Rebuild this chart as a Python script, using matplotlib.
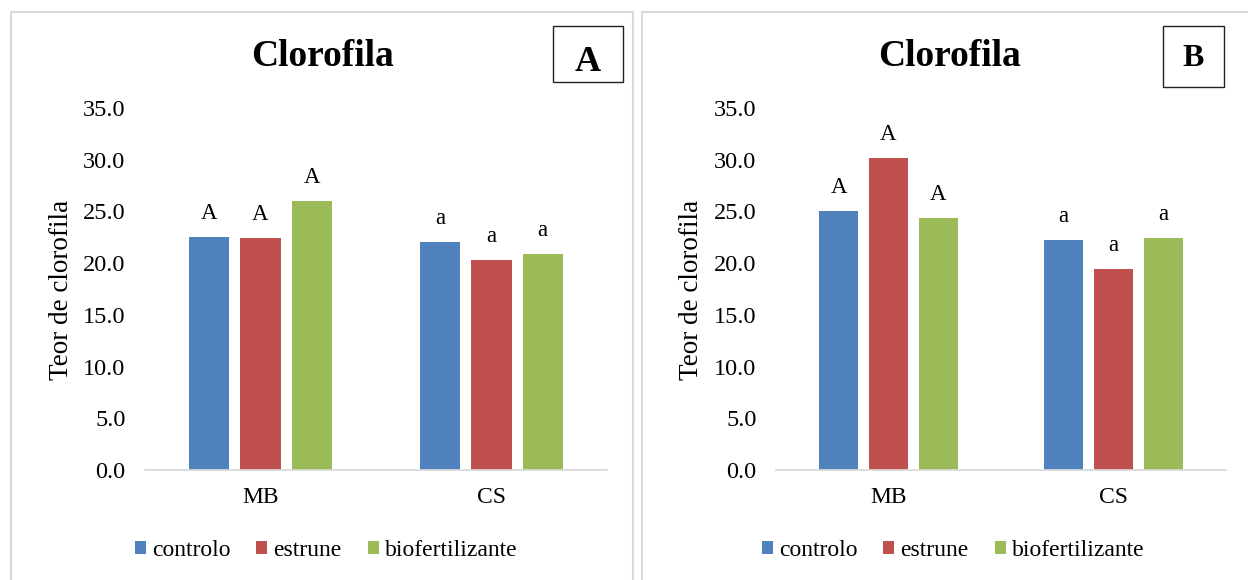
import numpy as np
import matplotlib
matplotlib.use("Agg")
import matplotlib.pyplot as plt
from matplotlib.patches import Rectangle

plt.rcParams['font.family'] = ['Liberation Serif', 'DejaVu Serif']

categories = ['MB', 'CS']
series = ['controlo', 'estrune', 'biofertilizante']
colors = ['#4F81BD', '#C0504D', '#9BBB59']

vals_a = {
    'controlo': [22.5, 22.0],
    'estrune': [22.4, 20.3],
    'biofertilizante': [26.0, 20.9],
}
vals_b = {
    'controlo': [25.0, 22.2],
    'estrune': [30.2, 19.4],
    'biofertilizante': [24.4, 22.4],
}
letters_a = {
    'controlo': ['A', 'a'],
    'estrune': ['A', 'a'],
    'biofertilizante': ['A', 'a'],
}
letters_b = {
    'controlo': ['A', 'a'],
    'estrune': ['A', 'a'],
    'biofertilizante': ['A', 'a'],
}

W, H = 1248, 580
fig = plt.figure(figsize=(W / 100, H / 100), dpi=100)


def px(x, y):
    return x / W, 1 - y / H


def draw_panel(rect, vals, letters, panel_left, panel_cx, box, tag, ylab_x):
    ax = fig.add_axes(rect)
    x = np.arange(len(categories))
    step, width = 0.222, 0.174
    bars = []
    for i, s in enumerate(series):
        pos = x + (i - 1) * step
        b = ax.bar(pos, vals[s], width, color=colors[i], label=s)
        bars.append(b)
        for xp, v, t in zip(pos, vals[s], letters[s]):
            ax.annotate(t, (xp, v), xytext=(0, 13), textcoords='offset points',
                        ha='center', va='baseline', fontsize=16.5)
    ax.set_xlim(-0.5, 1.5)
    ax.set_ylim(0, 35)
    ax.set_yticks(np.arange(0, 36, 5))
    ax.yaxis.set_major_formatter(matplotlib.ticker.FormatStrFormatter('%.1f'))
    ax.set_xticks(x)
    ax.set_xticklabels(categories)
    ax.tick_params(axis='y', length=0, pad=14, labelsize=17.5)
    ax.tick_params(axis='x', length=0, pad=12, labelsize=17)
    for sp in ['top', 'right', 'left']:
        ax.spines[sp].set_visible(False)
    ax.spines['bottom'].set_color('#D9D9D9')
    ax.spines['bottom'].set_linewidth(1.3)

    fx, fy = px(ylab_x, 290)
    fig.text(fx, fy, 'Teor de clorofila', rotation=90, ha='center', va='center', fontsize=19.5)

    # title
    tx, ty = px(panel_cx, 66)
    fig.text(tx, ty, 'Clorofila', ha='center', va='baseline', fontsize=27, fontweight='bold')

    # panel border
    bx, _ = px(panel_left[0], 0)
    _, by = px(0, 12)
    fig.patches.append(Rectangle((bx, -0.1), panel_left[1] / W, by + 0.1,
                                 transform=fig.transFigure, fill=False,
                                 ec='#D9D9D9', lw=1.5))

    # letter box
    x0, y0, x1, y1, base, fs = box
    rx, ry = px(x0, y1)
    fig.patches.append(Rectangle((rx, ry), (x1 - x0) / W, (y1 - y0) / H,
                                 transform=fig.transFigure, fill=False,
                                 ec='#222222', lw=1.0))
    lx, ly = px((x0 + x1) / 2, base)
    fig.text(lx, ly, tag, ha='center', va='baseline', fontsize=fs, fontweight='bold')

    lgx, lgy = px(panel_cx + 4, 550)
    fig.legend(bars, series, loc='center', bbox_to_anchor=(lgx, lgy), ncol=3,
               frameon=False, fontsize=17, handlelength=0.47, handleheight=0.47,
               handletextpad=0.25, columnspacing=1.1, borderpad=0)
    return ax


draw_panel([145 / W, 110 / H, 462 / W, 362 / H], vals_a, letters_a,
           (11, 622), 322, (553, 26, 623, 82, 71, 26), 'A', 62)
draw_panel([776 / W, 110 / H, 450 / W, 362 / H], vals_b, letters_b,
           (642, 700), 949, (1163, 26, 1224, 87, 66, 23), 'B', 692)

fig.savefig('out.png', dpi=100)
